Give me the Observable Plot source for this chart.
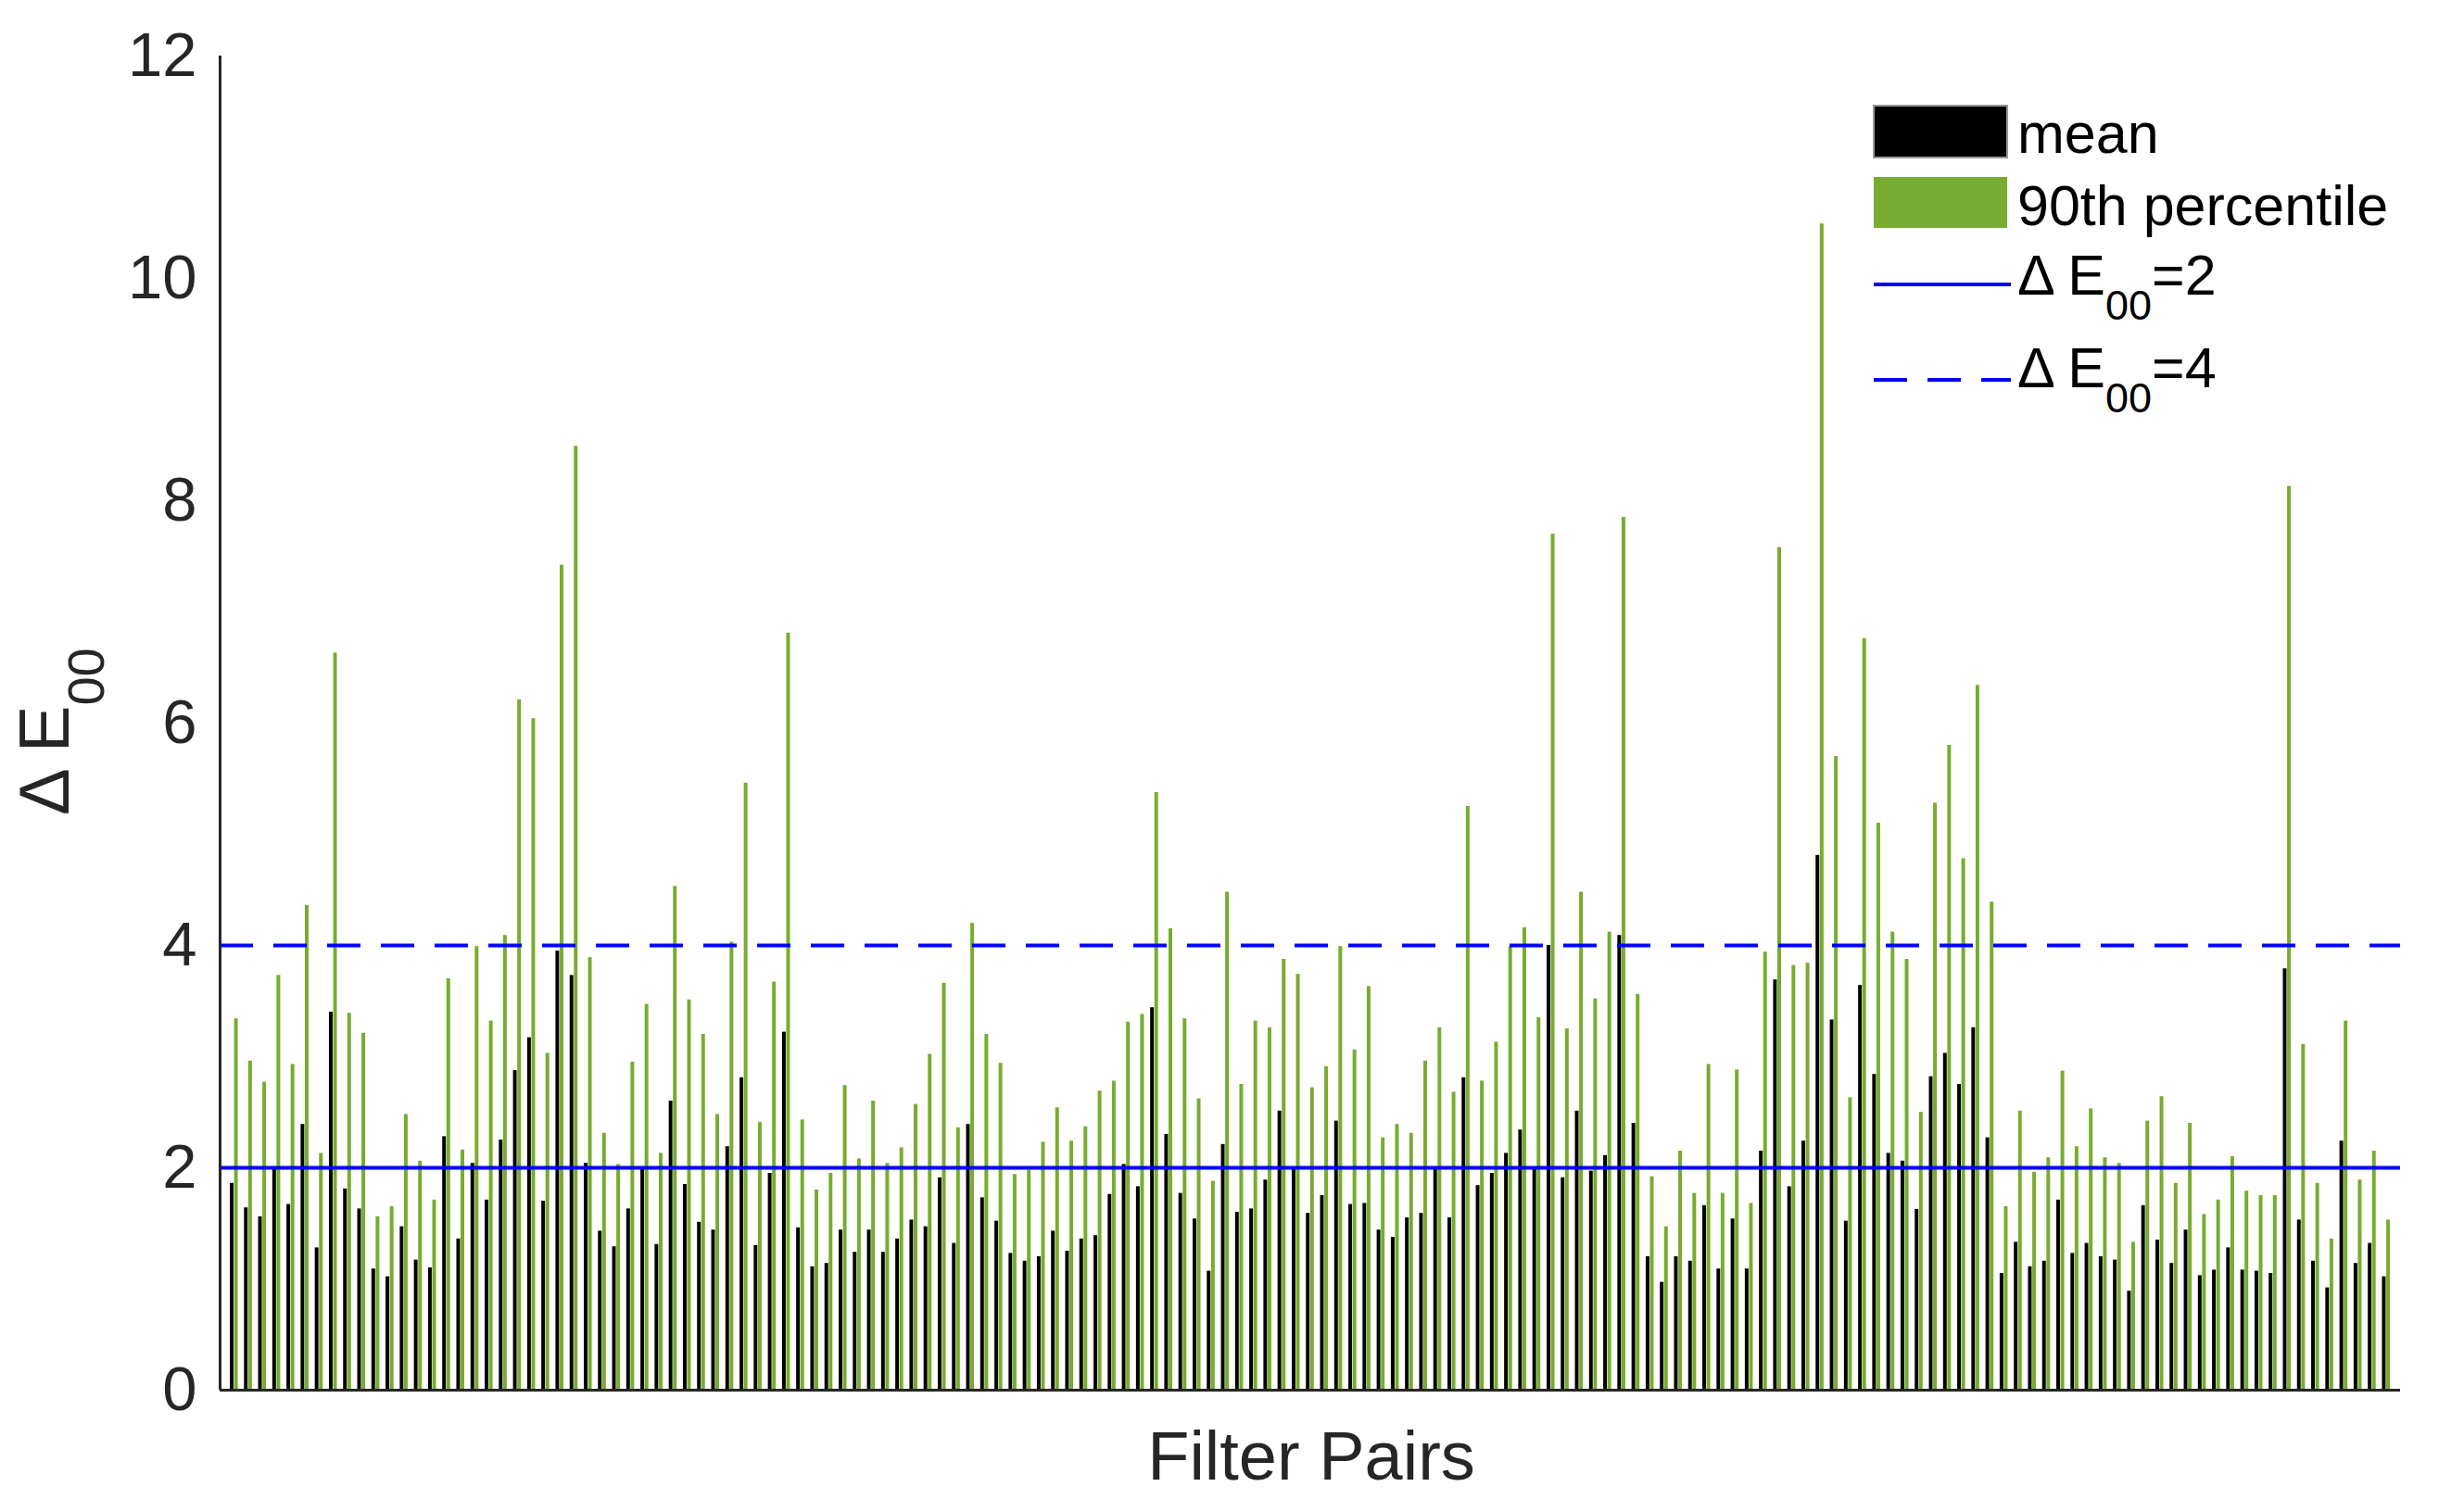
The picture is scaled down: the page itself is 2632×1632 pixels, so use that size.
<!DOCTYPE html>
<html>
<head>
<meta charset="utf-8">
<script src="https://cdn.jsdelivr.net/npm/d3@7"></script>
<script src="https://cdn.jsdelivr.net/npm/@observablehq/plot@0.6"></script>
<style>
  html, body { margin: 0; padding: 0; background: #fff; }
  #chart { width: 2632px; height: 1632px; }
</style>
</head>
<body>
<div id="chart"></div>
<script>
// Mean ΔE00 per filter pair (black bars)
const meanVals = [
  1.86, 1.64, 1.56, 2.00, 1.67, 2.39, 1.28, 3.40, 1.81, 1.63,
  1.09, 1.02, 1.47, 1.17, 1.10, 2.28, 1.36, 2.04, 1.71, 2.25,
  2.875, 3.17, 1.70, 3.95, 3.73, 2.04, 1.43, 1.29, 1.63, 2.00,
  1.31, 2.60, 1.85, 1.51, 1.44, 2.19, 2.81, 1.30, 1.95, 3.22,
  1.46, 1.11, 1.14, 1.44, 1.24, 1.44, 1.24, 1.36, 1.53, 1.47,
  1.91, 1.32, 2.39, 1.73, 1.52, 1.23, 1.16, 1.20, 1.43, 1.25,
  1.36, 1.39, 1.76, 2.03, 1.83, 3.44, 2.30, 1.77, 1.54, 1.07,
  2.21, 1.60, 1.63, 1.89, 2.51, 2.00, 1.59, 1.75, 2.42, 1.67,
  1.68, 1.44, 1.375, 1.55, 1.59, 1.99, 1.55, 2.81, 1.84, 1.95,
  2.13, 2.34, 1.99, 4.00, 1.91, 2.51, 1.97, 2.11, 4.09, 2.40,
  1.20, 0.97, 1.20, 1.16, 1.66, 1.09, 1.54, 1.09, 2.15, 3.69,
  1.83, 2.24, 4.81, 3.33, 1.52, 3.64, 2.84, 2.13, 2.06, 1.625,
  2.82, 3.03, 2.75, 3.26, 2.27, 1.05, 1.33, 1.11, 1.16, 1.71,
  1.23, 1.32, 1.20, 1.17, 0.89, 1.66, 1.35, 1.14, 1.44, 1.03,
  1.08, 1.28, 1.08, 1.07, 1.05, 3.79, 1.53, 1.16, 0.92, 2.24,
  1.14, 1.32, 1.02
];
// 90th percentile ΔE00 per filter pair (green bars)
const p90Vals = [
  3.34, 2.96, 2.77, 3.73, 2.93, 4.36, 2.13, 6.63, 3.39, 3.21,
  1.56, 1.65, 2.48, 2.06, 1.71, 3.70, 2.16, 3.99, 3.32, 4.09,
  6.21, 6.04, 3.03, 7.42, 8.49, 3.89, 2.31, 2.03, 2.95, 3.47,
  2.13, 4.53, 3.51, 3.20, 2.48, 4.03, 5.46, 2.41, 3.67, 6.81,
  2.43, 1.80, 1.95, 2.74, 2.08, 2.60, 2.04, 2.18, 2.57, 3.02,
  3.66, 2.36, 4.20, 3.20, 2.94, 1.94, 1.98, 2.23, 2.54, 2.24,
  2.37, 2.69, 2.78, 3.31, 3.38, 5.375, 4.15, 3.34, 2.62, 1.88,
  4.48, 2.75, 3.32, 3.26, 3.875, 3.74, 2.72, 2.91, 3.99, 3.06,
  3.63, 2.27, 2.39, 2.31, 2.96, 3.26, 2.68, 5.25, 2.78, 3.13,
  3.99, 4.16, 3.35, 7.70, 3.25, 4.48, 3.52, 4.12, 7.85, 3.56,
  1.92, 1.47, 2.15, 1.77, 2.93, 1.77, 2.88, 1.68, 3.94, 7.58,
  3.82, 3.84, 10.49, 5.70, 2.63, 6.76, 5.10, 4.12, 3.875, 2.50,
  5.28, 5.80, 4.78, 6.34, 4.39, 1.65, 2.51, 1.96, 2.09, 2.87,
  2.19, 2.53, 2.09, 2.04, 1.33, 2.42, 2.64, 1.86, 2.40, 1.58,
  1.71, 2.10, 1.79, 1.75, 1.75, 8.13, 3.11, 1.86, 1.36, 3.32,
  1.89, 2.15, 1.53
];
const yTicks = [0, 2, 4, 6, 8, 10, 12];
const thresholds = [2, 4];
const seriesNames = ["mean", "90th percentile"];
const thresholdLabels = ["=2", "=4"];

const rows = meanVals.map((m, k) => ({i: k + 1, mean: m, p90: p90Vals[k]}));
const N = rows.length;
const off = 0.15, half = 0.13;

const FONT = "'Liberation Sans', Arial, Helvetica, sans-serif";
const GREEN = "#77AC30";
const BLUE = "#0000FF";
const AXIS = "#262626";

const svg = Plot.plot({
  width: 2632,
  height: 1632,
  marginLeft: 237,
  marginRight: 42,
  marginTop: 60,
  marginBottom: 132,
  style: {fontFamily: FONT, background: "#fff", color: AXIS},
  x: {domain: [0, N + 1], axis: null},
  y: {domain: [0, 12], axis: null},
  marks: [
    Plot.rectY(rows, {x1: d => d.i - off - half, x2: d => d.i - off + half, y: "mean", fill: "#000"}),
    Plot.rectY(rows, {x1: d => d.i + off - half, x2: d => d.i + off + half, y: "p90", fill: GREEN}),
    Plot.ruleY([thresholds[0]], {stroke: BLUE, strokeWidth: 4}),
    Plot.ruleY([thresholds[1]], {stroke: BLUE, strokeWidth: 4, strokeDasharray: "36,22"}),
    Plot.axisY({ticks: yTicks, tickSize: 0, tickPadding: 25, fontSize: 67, label: null, fill: AXIS}),
    Plot.ruleX([0], {stroke: AXIS, strokeWidth: 3}),
    Plot.ruleY([0], {stroke: AXIS, strokeWidth: 3})
  ]
});
document.getElementById("chart").appendChild(svg);

const s = d3.select(svg);
// y-axis label: Δ E00 (rotated)
const yl = s.append("text")
  .attr("transform", "translate(74,880) rotate(-90)")
  .attr("text-anchor", "start")
  .attr("font-family", FONT).attr("font-size", 76).attr("fill", AXIS);
yl.append("tspan").text("Δ E");
yl.append("tspan").attr("font-size", 56).attr("dy", 38).text("00");

// x-axis label
s.append("text")
  .attr("x", 1415).attr("y", 1597)
  .attr("text-anchor", "middle")
  .attr("font-family", FONT).attr("font-size", 74).attr("fill", AXIS)
  .text("Filter Pairs");

// legend
const lg = s.append("g").attr("font-family", FONT).attr("font-size", 61)
  .attr("fill", "#000").attr("text-anchor", "start");
const lx0 = 2022, lx1 = 2166, tx = 2177;
lg.append("rect").attr("x", lx0).attr("y", 114).attr("width", lx1 - lx0).attr("height", 56)
  .attr("fill", "#000").attr("stroke", "#999").attr("stroke-width", 2);
lg.append("text").attr("x", tx).attr("y", 165).text(seriesNames[0]);
lg.append("rect").attr("x", lx0).attr("y", 191).attr("width", lx1 - lx0).attr("height", 55)
  .attr("fill", GREEN);
lg.append("text").attr("x", tx).attr("y", 243).text(seriesNames[1]);

lg.append("line").attr("x1", lx0).attr("x2", lx1 + 4).attr("y1", 307).attr("y2", 307)
  .attr("stroke", BLUE).attr("stroke-width", 4);
lg.append("line").attr("x1", lx0).attr("x2", lx1 + 4).attr("y1", 410).attr("y2", 410)
  .attr("stroke", BLUE).attr("stroke-width", 4).attr("stroke-dasharray", "36,22");

[[318, 0], [418, 1]].forEach(([by, k]) => {
  const t = lg.append("text").attr("x", tx).attr("y", by);
  t.append("tspan").text("Δ E");
  t.append("tspan").attr("font-size", 45).attr("dy", 27).text("00");
  t.append("tspan").attr("dy", -27).text(thresholdLabels[k]);
});
</script>
</body>
</html>
